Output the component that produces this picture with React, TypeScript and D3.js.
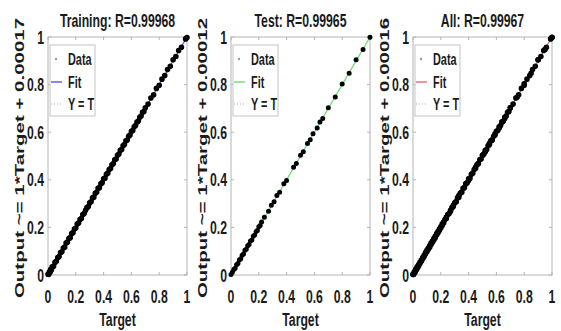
import React from "react";
import * as d3 from "d3";

const width = 561;
const height = 331;
const plotTop = 37;
const plotBottom = 275;
const plotWidth = 139;
const panelLefts = [48, 231, 413];
const squeeze = 0.68; // the picture is narrowed, so every text is scaled in x
const font = "'Liberation Sans', Arial, sans-serif";

const panelNames = ["Training", "Test", "All"];
const rValues = ["0.99968", "0.99965", "0.99967"];
const fitSlopes = [1, 1, 1];
const fitIntercepts = ["0.00017", "0.00012", "0.00016"];
const fitColors = ["#5555dd", "#66dd66", "#e06a6a"];
const tickValues = [0, 0.2, 0.4, 0.6, 0.8, 1];
const tickLabels = ["0", "0.2", "0.4", "0.6", "0.8", "1"];
const legendLabels = ["Data", "Fit", "Y = T"];

const trainTarget = [
  0, 0.005, 0.01, 0.015, 0.02, 0.025, 0.03, 0.04, 0.05, 0.06, 0.07, 0.08, 0.09, 0.1, 0.11, 0.12, 0.13, 0.14,
  0.15, 0.16, 0.17, 0.18, 0.19, 0.2, 0.21, 0.22, 0.23, 0.24, 0.25, 0.26, 0.27, 0.28, 0.29, 0.3, 0.31, 0.32,
  0.33, 0.34, 0.35, 0.36, 0.37, 0.38, 0.39, 0.4, 0.41, 0.42, 0.43, 0.44, 0.45, 0.46, 0.47, 0.48, 0.49, 0.5,
  0.51, 0.52, 0.53, 0.54, 0.55, 0.56, 0.57, 0.58, 0.59, 0.6, 0.61, 0.62, 0.63, 0.64, 0.65, 0.66, 0.67, 0.68,
  0.69, 0.7, 0.72, 0.74, 0.76, 0.78, 0.8, 0.82, 0.84, 0.86, 0.88, 0.9, 0.92, 0.94, 0.96, 0.99, 1.0,
];
const trainOutput = [
  0.003, 0.002, 0.013, 0.012, 0.024, 0.022, 0.034, 0.037, 0.053, 0.058, 0.073, 0.078, 0.094, 0.098, 0.113,
  0.117, 0.134, 0.138, 0.153, 0.157, 0.174, 0.178, 0.193, 0.197, 0.214, 0.218, 0.233, 0.237, 0.254, 0.258,
  0.272, 0.283, 0.288, 0.303, 0.308, 0.324, 0.327, 0.343, 0.348, 0.364, 0.367, 0.383, 0.388, 0.404, 0.407,
  0.423, 0.428, 0.443, 0.447, 0.463, 0.468, 0.484, 0.487, 0.503, 0.508, 0.524, 0.527, 0.543, 0.548, 0.564,
  0.567, 0.583, 0.588, 0.604, 0.607, 0.623, 0.628, 0.643, 0.647, 0.663, 0.668, 0.684, 0.687, 0.703, 0.718,
  0.744, 0.757, 0.784, 0.797, 0.823, 0.838, 0.863, 0.877, 0.904, 0.918, 0.943, 0.957, 0.992, 0.998,
];

const testTarget = [
  0, 0.01, 0.02, 0.03, 0.04, 0.05, 0.06, 0.07, 0.08, 0.09, 0.1, 0.11, 0.12, 0.13, 0.14, 0.15, 0.16, 0.17,
  0.18, 0.19, 0.2, 0.21, 0.22, 0.24, 0.27, 0.29, 0.31, 0.33, 0.35, 0.38, 0.4, 0.45, 0.47, 0.5, 0.52, 0.55,
  0.57, 0.59, 0.62, 0.64, 0.66, 0.7, 0.75, 0.8, 0.85, 0.9, 0.95, 1.0,
];
const testOutput = [
  0.002, 0.012, 0.023, 0.028, 0.043, 0.048, 0.063, 0.068, 0.083, 0.088, 0.104, 0.108, 0.123, 0.128, 0.143,
  0.147, 0.163, 0.168, 0.183, 0.187, 0.203, 0.208, 0.223, 0.243, 0.268, 0.293, 0.308, 0.334, 0.348, 0.383,
  0.397, 0.453, 0.468, 0.503, 0.518, 0.553, 0.568, 0.593, 0.618, 0.643, 0.658, 0.703, 0.748, 0.803, 0.848,
  0.904, 0.948, 0.999,
];

const panelTargets = [trainTarget, testTarget, trainTarget.concat(testTarget)];
const panelOutputs = [trainOutput, testOutput, trainOutput.concat(testOutput)];

// text narrowed in x like the picture
const Label = ({ x, y, anchor = "middle", size = 18, rotate = 0, sx = squeeze, children }) => (
  <text
    transform={`translate(${x},${y}) scale(${sx},1)${rotate ? ` rotate(${rotate})` : ""}`}
    textAnchor={anchor}
    fontFamily={font}
    fontWeight="bold"
    fontSize={size}
    fill="#1a1a1a"
  >
    {children}
  </text>
);

const Panel = ({ idx }) => {
  const left = panelLefts[idx];
  const x = d3.scaleLinear().domain([0, 1]).range([left, left + plotWidth]);
  const y = d3.scaleLinear().domain([0, 1]).range([plotBottom, plotTop]);
  const targets = panelTargets[idx];
  const outputs = panelOutputs[idx];
  const intercept = +fitIntercepts[idx];
  const fitLine = d3.line()([
    [x(0), y(intercept)],
    [x(1), y(fitSlopes[idx] + intercept)],
  ]);
  const legendTop = 45;
  const rowY = [59, 82, 104];
  const markerR = idx === 1 ? 1.5 : 1.8;

  return (
    <g>
      {/* axis box and inward ticks */}
      <rect x={left} y={plotTop} width={plotWidth} height={plotBottom - plotTop} fill="#fff" stroke="#b4b4b4" />
      {tickValues.map((t, i) => (
        <g key={i} stroke="#b4b4b4">
          <line x1={x(t)} x2={x(t)} y1={plotBottom} y2={plotBottom - 3} />
          <line x1={x(t)} x2={x(t)} y1={plotTop} y2={plotTop + 3} />
          <line x1={left} x2={left + 3} y1={y(t)} y2={y(t)} />
          <line x1={left + plotWidth} x2={left + plotWidth - 3} y1={y(t)} y2={y(t)} />
        </g>
      ))}

      {/* lines under the markers, so they only show in the gaps */}
      <line x1={x(0)} y1={y(0)} x2={x(1)} y2={y(1)} stroke="#888" strokeWidth={0.8} strokeDasharray="1,2" />
      <path d={fitLine} stroke={fitColors[idx]} strokeWidth={1.2} fill="none" />
      {targets.map((t, i) => (
        <circle key={i} cx={x(t)} cy={y(outputs[i])} r={markerR} fill="#111" stroke="#000" strokeWidth={2} />
      ))}

      {/* tick labels */}
      {tickValues.map((t, i) => (
        <Label key={"x" + i} x={x(t)} y={303}>
          {tickLabels[i]}
        </Label>
      ))}
      {tickValues.map((t, i) => (
        <Label key={"y" + i} x={left - 4} y={y(t) + 6.5} anchor="end">
          {tickLabels[i]}
        </Label>
      ))}

      <Label x={left + plotWidth / 2} y={27}>
        {`${panelNames[idx]}: R=${rValues[idx]}`}
      </Label>
      <Label x={left + plotWidth / 2} y={326}>
        Target
      </Label>
      <Label x={left - 24} y={158} rotate={-90} size={20.5} sx={0.6}>
        {`Output ~= ${fitSlopes[idx]}*Target + ${fitIntercepts[idx]}`}
      </Label>

      {/* legend */}
      <rect x={left + 2} y={legendTop} width={45} height={71} fill="#fff" stroke="#c4c4c4" />
      <circle cx={left + 8} cy={rowY[0]} r={1.2} fill="#999" />
      <line x1={left + 3} x2={left + 14} y1={rowY[1]} y2={rowY[1]} stroke={fitColors[idx]} strokeWidth={1.4} />
      <line
        x1={left + 3}
        x2={left + 14}
        y1={rowY[2]}
        y2={rowY[2]}
        stroke="#999"
        strokeWidth={0.8}
        strokeDasharray="1,2"
      />
      {legendLabels.map((l, i) => (
        <Label key={l} x={left + 20} y={rowY[i] + 6} anchor="start" size={16}>
          {l}
        </Label>
      ))}
    </g>
  );
};

const App = () => (
  <svg width={width} height={height} style={{ position: "absolute", left: 0, top: 0, background: "#fff" }}>
    {panelLefts.map((_, idx) => (
      <Panel key={idx} idx={idx} />
    ))}
  </svg>
);

export default App;
